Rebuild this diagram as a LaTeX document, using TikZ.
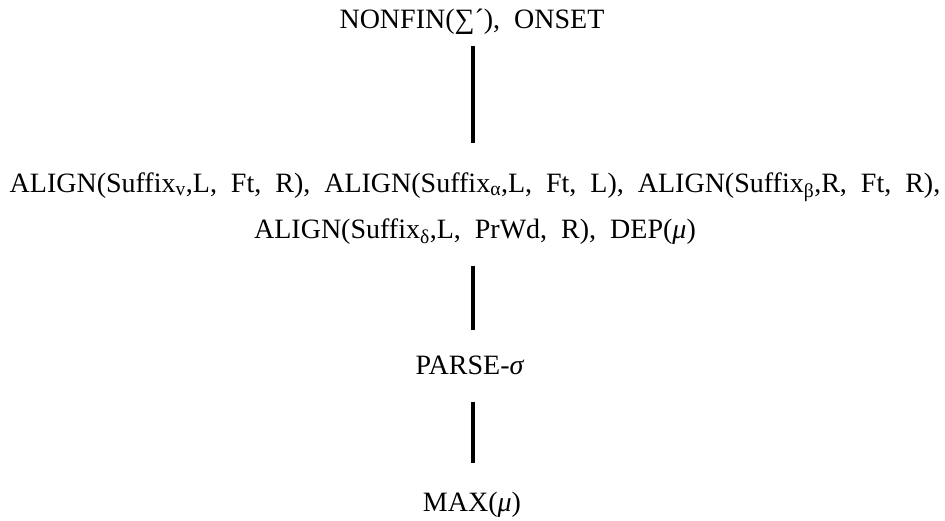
\documentclass[tikz,border=0pt]{standalone}
\usepackage{fontspec}
\setmainfont{Liberation Serif}
\begin{document}
\begin{tikzpicture}[x=1pt,y=-1pt,
  label/.style={inner sep=0pt,anchor=base,font=\fontsize{28}{32}\selectfont},
  link/.style={line width=3.6pt}]
\useasboundingbox (0,0) rectangle (945,520);
\newcommand{\sfx}[1]{\textsubscript{#1}}
\newcommand{\gap}{\ \ }
% constraint strata
\node[label] (top) at (472,28) {NONFIN(∑´),\gap ONSET};
\node[label] (alignA) at (475,192) {ALIGN(Suffix\sfx{v},L,\gap Ft,\gap R),\gap ALIGN(Suffix\sfx{α},L,\gap Ft,\gap L),\gap ALIGN(Suffix\sfx{β},R,\gap Ft,\gap R),};
\node[label] (alignB) at (475,238) {ALIGN(Suffix\sfx{δ},L,\gap PrWd,\gap R),\gap DEP(\textit{μ})};
\node[label] (parse) at (470,374) {PARSE-\textit{σ}};
\node[label] (max) at (472,511) {MAX(\textit{μ})};
% vertical axis of the domination links
\coordinate (axis) at (473,0);
% domination links
\draw[link] ([yshift=-12pt]top.south -| axis) -- ([yshift=29pt]alignA.north -| axis);
\draw[link] ([yshift=-22pt]alignB.south -| axis) -- ([yshift=25pt]parse.north -| axis);
\draw[link] ([yshift=-28pt]parse.south -| axis) -- ([yshift=28pt]max.north -| axis);
\end{tikzpicture}
\end{document}
